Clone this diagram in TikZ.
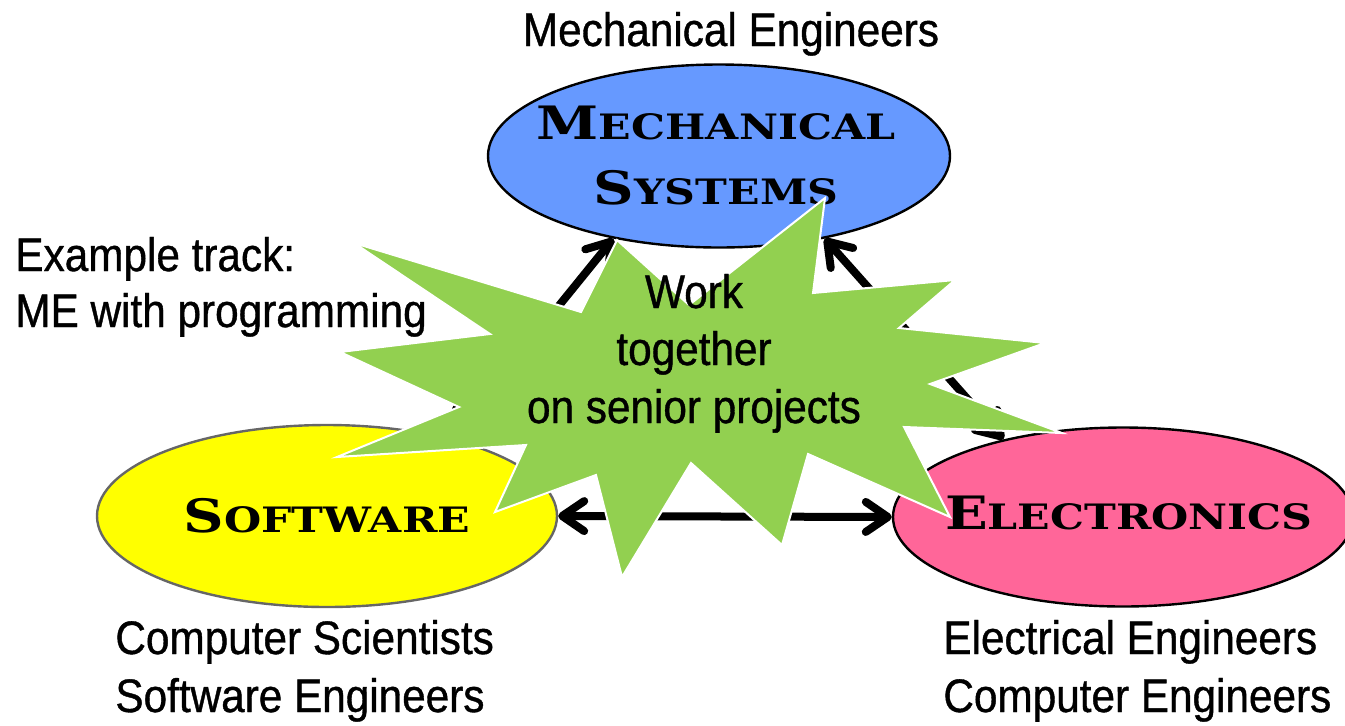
\documentclass[tikz,border=0pt]{standalone}
\usepackage{fontspec}
\setmainfont{Liberation Sans}[FakeStretch=0.9,FakeBold=0.8]
\newfontfamily\copfont{DejaVu Serif}[FakeStretch=1.22]
\usetikzlibrary{shapes.geometric,arrows.meta}
\definecolor{mechblue}{HTML}{6699FF}
\definecolor{swyellow}{HTML}{FFFF00}
\definecolor{elpink}{HTML}{FF6699}
\definecolor{burstgreen}{HTML}{92D050}
\definecolor{swgrey}{HTML}{666666}
\newcommand\mysc[2]{{\fontsize{23}{32.5}\selectfont #1}{\fontsize{17.5}{32.5}\selectfont #2}}
\tikzset{
  field/.style={ellipse, draw=black, line width=1.2pt, inner sep=0pt},
  fieldtxt/.style={font=\copfont\bfseries\fontsize{23}{32.5}\selectfont, align=center, inner sep=0pt},
  arr/.style={line width=4pt, {Straight Barb[length=11pt,width=15pt,round]}-{Straight Barb[length=11pt,width=15pt,round]}},
  burst/.style={fill=burstgreen, draw=white, line width=1pt, line join=miter},
  txt/.style={font=\fontsize{23.5}{23.5}\selectfont, inner sep=0pt},
}
\begin{document}
\begin{tikzpicture}[x=0.5pt,y=-0.5pt]
\useasboundingbox (0,0) rectangle (1345,725);
\node[field, fill=mechblue, minimum width=231pt, minimum height=91.5pt,
  label={[fieldtxt, xshift=-1.5pt]center:\mysc{M}{ECHANICAL}\\\mysc{S}{YSTEMS}}] (mech) at (719,156) {};
\node[field, fill=swyellow, draw=swgrey, minimum width=230pt, minimum height=91pt,
  label={[fieldtxt]center:\mysc{S}{OFTWARE}}] (sw) at (327,516) {};
\node[field, fill=elpink, minimum width=230pt, minimum height=89.5pt,
  label={[fieldtxt, xshift=3pt, yshift=2pt]center:\mysc{E}{LECTRONICS}}] (el) at (1123,517) {};
\draw[arr] (mech.218.8) -- (sw.32.9);
\draw[arr] (mech.322.6) -- (el.147.3);
\draw[arr] (sw.east) -- (el.west);
\draw[burst] (825,198) -- (813,293) -- (955,280) -- (899,328) -- (1045,343) -- (930,384)
  -- (1062,433) -- (904,427) -- (950,517) -- (808,454) -- (782,545) -- (691,463)
  -- (622,577) -- (596,475) -- (495,512) -- (526,445) -- (337,457) -- (459,407)
  -- (340,352) -- (490,334) -- (354,243) -- (581,312) -- (617,240) -- (689,305) -- cycle;
\node[txt, anchor=base] (w1) at (694,308) {Work};
\node[txt, anchor=base] (w2) at (694,365) {together};
\node[txt, anchor=base] (w3) at (694,423) {on senior projects};
\node[txt, anchor=base] (me) at (731,46) {Mechanical Engineers};
\node[txt, anchor=base west] (ex1) at (15,271) {Example track:};
\node[txt, anchor=base west] (ex2) at (15,327) {ME with programming};
\node[txt, anchor=base west] (cs1) at (115,654) {Computer Scientists};
\node[txt, anchor=base west] (cs2) at (115,712) {Software Engineers};
\node[txt, anchor=base west] (ee1) at (943,654) {Electrical Engineers};
\node[txt, anchor=base west] (ee2) at (943,712) {Computer Engineers};
\end{tikzpicture}
\end{document}
